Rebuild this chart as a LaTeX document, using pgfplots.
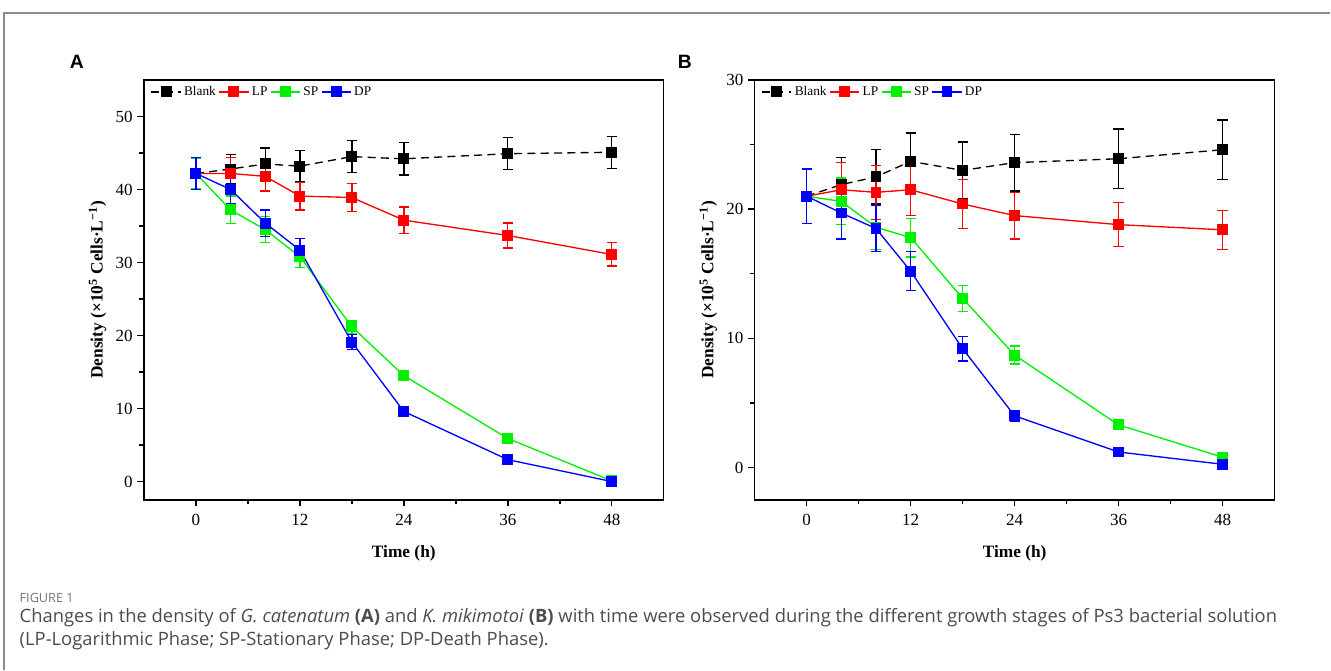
\documentclass[border=0pt]{standalone}
\usepackage{pgfplots}
\pgfplotsset{compat=1.18}
\usepackage{fontspec}
\setmainfont{Liberation Serif}
\newfontfamily\capfont{Open Sans}
\newfontfamily\panelfont{Liberation Sans}
\definecolor{cgreen}{RGB}{0,240,0}
\definecolor{cred}{RGB}{255,0,0}
\definecolor{cblue}{RGB}{0,0,255}

\pgfplotstableread{
x y e
0 42.2 2.1
4 42.8 2.0
8 43.5 2.2
12 43.2 2.1
18 44.5 2.2
24 44.2 2.2
36 44.9 2.2
48 45.1 2.2
}\ABlank
\pgfplotstableread{
x y e
0 42.2 2.1
4 42.2 2.2
8 41.8 2.0
12 39.1 1.9
18 38.9 1.9
24 35.8 1.8
36 33.7 1.7
48 31.1 1.6
}\ALP
\pgfplotstableread{
x y e
0 42.2 2.1
4 37.2 1.9
8 34.5 1.8
12 30.8 1.5
18 21.2 0.9
24 14.5 0.5
36 5.9 0.3
48 0.1 0.2
}\ASP
\pgfplotstableread{
x y e
0 42.2 2.2
4 40.0 2.0
8 35.4 1.8
12 31.7 1.6
18 19.1 1.0
24 9.6 0.3
36 3.0 0.3
48 0.0 0.2
}\ADP
\pgfplotstableread{
x y e
0 21.0 2.1
4 21.9 2.1
8 22.5 2.1
12 23.7 2.2
18 23.0 2.2
24 23.6 2.2
36 23.9 2.3
48 24.6 2.3
}\BBlank
\pgfplotstableread{
x y e
0 21.0 2.1
4 21.5 2.1
8 21.3 2.1
12 21.5 2.0
18 20.4 1.9
24 19.5 1.8
36 18.8 1.7
48 18.4 1.5
}\BLP
\pgfplotstableread{
x y e
0 21.0 2.1
4 20.6 1.8
8 18.6 1.7
12 17.8 1.5
18 13.1 1.0
24 8.7 0.7
36 3.3 0.2
48 0.8 0.1
}\BSP
\pgfplotstableread{
x y e
0 21.0 2.1
4 19.7 2.0
8 18.5 1.8
12 15.2 1.5
18 9.2 0.95
24 4.0 0.4
36 1.2 0.2
48 0.25 0.1
}\BDP

\pgfplotsset{
  myax/.style={
    scale only axis, width=390pt, height=315pt,
    xmin=-6, xmax=54, xtick={0,12,24,36,48}, minor xtick={6,18,30,42},
    xtick pos=bottom, ytick pos=left,
    tick align=outside, major tick length=5pt, minor tick length=3.5pt,
    axis line style={line width=1.1pt},
    every tick/.style={black, line width=1.1pt},
    tick label style={font=\fontsize{12.75}{13}\selectfont},
    xticklabel style={yshift=-2pt},
    label style={font=\bfseries\fontsize{13}{14}\selectfont},
    xlabel style={yshift=-8pt},
    /pgf/number format/assume math mode=true,
    xlabel={Time (h)},
    ylabel={Density (×10\textsuperscript{5} Cells·L\textsuperscript{−1})},
    legend columns=4,
    legend style={draw=none, fill=none, at={(0.01,0.995)}, anchor=north west,
      font=\fontsize{10}{11}\selectfont, inner sep=1pt,
      /tikz/every odd column/.style={column sep=0pt},
      /tikz/every even column/.style={column sep=0pt}},
    legend image code/.code={\draw[mark repeat=2,mark phase=2,#1] plot coordinates {(0pt,0pt)(11pt,0pt)(22pt,0pt)};},
    every axis plot/.append style={line width=1pt, mark=square*, mark size=3.6pt,
      mark options={solid},
      error bars/y dir=both, error bars/y explicit,
      error bars/error bar style={line width=1pt, solid},
      error bars/error mark options={rotate=90, mark size=3.8pt, line width=1pt, solid}},
  }
}

\begin{document}
\begin{tikzpicture}[x=0.75pt,y=0.75pt]
\path (0,0) rectangle (1331,670);
\draw[black!45, line width=0.8pt] (4,0) -- (4,657) -- (1331,657);
\node[font=\panelfont\bfseries\fontsize{14.5}{15}\selectfont] at (77,608) {A};
\node[font=\panelfont\bfseries\fontsize{14.5}{15}\selectfont] at (685,608) {B};

\begin{axis}[myax, at={(108pt,127.5pt)}, anchor=south west,
  ymin=-2.5, ymax=55, ytick={0,10,20,30,40,50}, minor ytick={5,15,25,35,45}]
\addplot[black, dashed, dash pattern=on 6pt off 4pt] table[x=x,y=y,y error=e] {\ABlank};
\addlegendentry{Blank}
\addplot[cred] table[x=x,y=y,y error=e] {\ALP};
\addlegendentry{LP}
\addplot[cgreen] table[x=x,y=y,y error=e] {\ASP};
\addlegendentry{SP}
\addplot[cblue] table[x=x,y=y,y error=e] {\ADP};
\addlegendentry{DP}
\end{axis}

\begin{axis}[myax, at={(566.25pt,127.5pt)}, anchor=south west,
  ymin=-2.5, ymax=30, ytick={0,10,20,30}, minor ytick={5,15,25}]
\addplot[black, dashed, dash pattern=on 6pt off 4pt] table[x=x,y=y,y error=e] {\BBlank};
\addlegendentry{Blank}
\addplot[cred] table[x=x,y=y,y error=e] {\BLP};
\addlegendentry{LP}
\addplot[cgreen] table[x=x,y=y,y error=e] {\BSP};
\addlegendentry{SP}
\addplot[cblue] table[x=x,y=y,y error=e] {\BDP};
\addlegendentry{DP}
\end{axis}

\node[anchor=west, font=\capfont\fontsize{9.5}{10}\selectfont, text=black!55] at (15,72) {FIGURE 1};
\node[anchor=west, font=\capfont\fontsize{13.8}{14}\selectfont, text=black!70] at (15,52) {Changes in the density of \textit{G. catenatum} \textbf{(A)} and \textit{K. mikimotoi} \textbf{(B)} with time were observed during the different growth stages of Ps3 bacterial solution};
\node[anchor=west, font=\capfont\fontsize{13.8}{14}\selectfont, text=black!70] at (15,29) {(LP-Logarithmic Phase; SP-Stationary Phase; DP-Death Phase).};
\end{tikzpicture}
\end{document}
